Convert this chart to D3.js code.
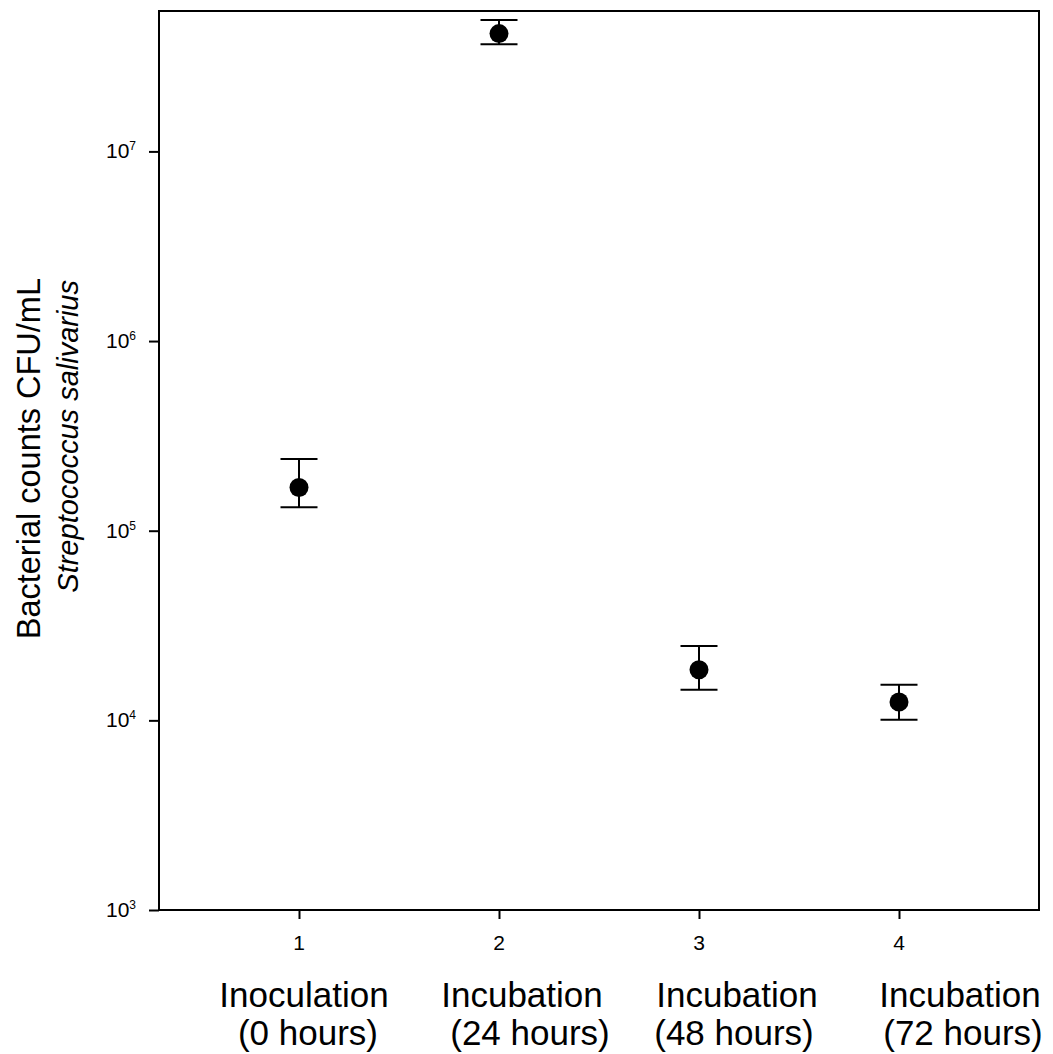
<!DOCTYPE html>
<html>
<head>
<meta charset="utf-8">
<script src="https://cdn.jsdelivr.net/npm/d3@7"></script>
<style>
  html, body { margin: 0; padding: 0; background: #fff; }
  svg { display: block; }
  text { font-family: Arial, "Liberation Sans", sans-serif; fill: #000; }
</style>
</head>
<body>
<div id="chart"></div>
<script>
// ---- data ----
const timepoints = [1, 2, 3, 4];
const means = [1.69e5, 4.18e7, 1.85e4, 1.25e4];
const upper = [2.39e5, 4.93e7, 2.47e4, 1.54e4];
const lower = [1.33e5, 3.67e7, 1.45e4, 1.006e4];
const yTicks = [1e3, 1e4, 1e5, 1e6, 1e7];
const xTicks = [1, 2, 3, 4];
const groupLine1 = ["Inoculation", "Incubation", "Incubation", "Incubation"];
const groupLine2 = ["(0 hours)", "(24 hours)", "(48 hours)", "(72 hours)"];
const yTitle1 = "Bacterial counts CFU/mL";
const yTitle2 = "Streptococcus salivarius";

// ---- layout ----
const W = 1053, H = 1054;
const plot = { left: 159, top: 11, right: 1039, bottom: 910 };

const svg = d3.select("#chart").append("svg")
  .attr("width", W).attr("height", H);

const x = d3.scaleLinear().domain([0.3, 4.7]).range([plot.left, plot.right]);
const y = d3.scaleLog().domain([1e3, 5.5e7]).range([plot.bottom, plot.top]);

// y axis (ticks via d3 axis, labels drawn as superscript text)
const yAxis = svg.append("g")
  .attr("transform", `translate(${plot.left},0)`)
  .call(d3.axisLeft(y).tickValues(yTicks).tickSize(10).tickSizeOuter(0).tickFormat(""));
yAxis.select(".domain").remove();
yAxis.selectAll(".tick line").attr("stroke", "#000").attr("stroke-width", 2);

svg.append("g").selectAll("text").data(yTicks).join("text")
  .attr("font-size", 21)
  .attr("text-anchor", "end")
  .attr("x", plot.left - 23)
  .attr("y", d => y(d) + 7)
  .each(function(d) {
    const t = d3.select(this);
    t.append("tspan").text("10");
    t.append("tspan").attr("font-size", 12).attr("dy", -8).text(Math.round(Math.log10(d)));
  });

// x axis
const xAxis = svg.append("g")
  .attr("transform", `translate(0,${plot.bottom})`)
  .call(d3.axisBottom(x).tickValues(xTicks).tickSize(9).tickSizeOuter(0).tickFormat(""));
xAxis.select(".domain").remove();
xAxis.selectAll(".tick line").attr("stroke", "#000").attr("stroke-width", 2);

svg.append("g").selectAll("text").data(xTicks).join("text")
  .attr("font-size", 21)
  .attr("text-anchor", "middle")
  .attr("x", d => x(d))
  .attr("y", plot.bottom + 40)
  .text(d => d3.format("d")(d));

// frame
svg.append("rect")
  .attr("x", plot.left).attr("y", plot.top)
  .attr("width", plot.right - plot.left).attr("height", plot.bottom - plot.top)
  .attr("fill", "none").attr("stroke", "#000").attr("stroke-width", 2);

// error bars
const capHalf = 18.5;
const eb = svg.append("g").attr("stroke", "#000").attr("stroke-width", 2);
timepoints.forEach((t, i) => {
  const cx = x(t);
  eb.append("line").attr("x1", cx).attr("x2", cx).attr("y1", y(upper[i])).attr("y2", y(lower[i]));
  eb.append("line").attr("x1", cx - capHalf).attr("x2", cx + capHalf).attr("y1", y(upper[i])).attr("y2", y(upper[i]));
  eb.append("line").attr("x1", cx - capHalf).attr("x2", cx + capHalf).attr("y1", y(lower[i])).attr("y2", y(lower[i]));
});

// points
svg.append("g").selectAll("circle").data(timepoints).join("circle")
  .attr("cx", d => x(d))
  .attr("cy", (d, i) => y(means[i]))
  .attr("r", 9.5)
  .attr("fill", "#000");

// group labels under the axis
const line1Shift = [5, 23, 38, 61];
const line2Shift = [9, 31, 35, 64];
const gl = svg.append("g").style("font-size", "35px").attr("text-anchor", "middle");
timepoints.forEach((t, i) => {
  gl.append("text").attr("x", x(t) + line1Shift[i]).attr("y", 1007).text(groupLine1[i]);
  gl.append("text").attr("x", x(t) + line2Shift[i]).attr("y", 1045).text(groupLine2[i]);
});

// y title
const yt = svg.append("text")
  .attr("transform", `translate(40,278) rotate(-90)`)
  .attr("text-anchor", "end");
yt.append("tspan").attr("x", 0).attr("y", 0).style("font-size", "32.5px").text(yTitle1);
yt.append("tspan").attr("x", -2).attr("y", 38).style("font-size", "29px").attr("font-style", "italic").text(yTitle2);
</script>
</body>
</html>
